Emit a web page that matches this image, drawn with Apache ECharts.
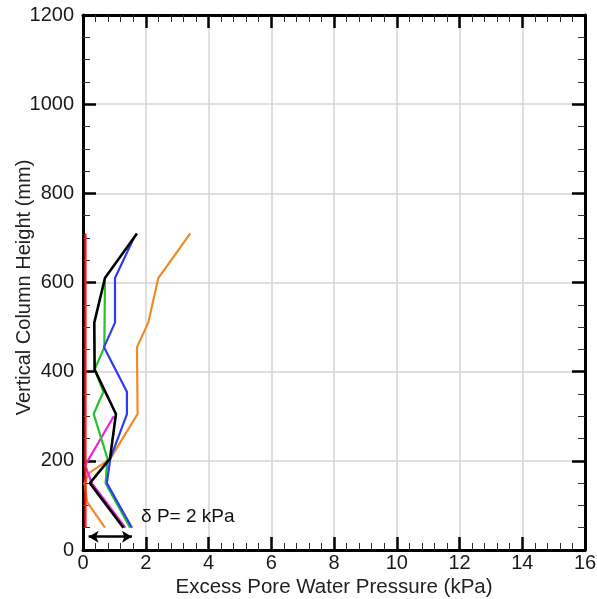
<!DOCTYPE html>
<html>
<head>
<meta charset="utf-8">
<script src="https://cdn.jsdelivr.net/npm/echarts@6/dist/echarts.min.js"></script>
<style>
  html, body { margin: 0; padding: 0; background: #fff; }
  #chart { width: 597px; height: 599px; }
</style>
</head>
<body>
<div id="chart"></div>
<script>
// Excess pore water pressure profiles along the column (kPa vs. mm)
const blackHeight   = [50, 150, 205, 305, 405, 510, 610, 710];
const blackPressure = [1.29, 0.22, 0.86, 1.05, 0.37, 0.36, 0.70, 1.72];

const blueHeight    = [50, 150, 205, 305, 355, 455, 510, 610, 700];
const bluePressure  = [1.56, 0.76, 0.87, 1.40, 1.40, 0.67, 1.02, 1.02, 1.62];

const greenHeight   = [50, 150, 205, 305, 355, 405, 455, 605];
const greenPressure = [1.50, 0.72, 0.78, 0.34, 0.65, 0.37, 0.68, 0.70];

const magentaHeight   = [50, 150, 190, 300];
const magentaPressure = [1.35, 0.28, 0.07, 0.98];

const orangeHeight   = [50, 108, 150, 172, 205, 305, 455, 510, 610, 710];
const orangePressure = [0.70, 0.13, 0.05, 0.18, 0.87, 1.74, 1.72, 2.08, 2.40, 3.42];

const redHeight   = [50, 150, 205, 305, 405, 510, 610, 710];
const redPressure = [0.08, 0.08, 0.08, 0.08, 0.08, 0.08, 0.08, 0.08];

// scale bar: delta P arrow and its caption
const scaleBarHeight = 30;
const scaleBarFrom = 0.18;
const scaleBarTo = 1.56;
const scaleBarText = 'δ P= 2 kPa';
const scaleTextAt = [1.85, 74];

const xTicks = { min: 0, max: 16, interval: 2 };
const yTicks = { min: 0, max: 1200, interval: 200 };

const toPoints = (h, p) => h.map((v, i) => [p[i], v]);

const FONT = 'Liberation Sans, Arial, sans-serif';
const chart = echarts.init(document.getElementById('chart'), null, { renderer: 'canvas' });

const baseAxis = {
  axisLine: { show: true, onZero: false, lineStyle: { color: '#000', width: 3 } },
  axisTick: { show: true, inside: true, length: 13, lineStyle: { color: '#000', width: 2.5 } },
  minorTick: { show: true, length: 7, lineStyle: { color: '#333', width: 1 } },
};

function lineSeries(name, color, h, p, width) {
  return {
    name, type: 'line', data: toPoints(h, p),
    symbol: 'none', smooth: false, clip: false,
    lineStyle: { color, width: width || 2.2 },
    xAxisIndex: 0, yAxisIndex: 0, z: 3
  };
}

const plainNumber = v => String(v);

const option = {
  animation: false,
  backgroundColor: '#fff',
  grid: { left: 83, right: 12, top: 15, bottom: 49, containLabel: false, outerBoundsMode: 'none' },
  xAxis: [
    Object.assign({}, baseAxis, {
      type: 'value', position: 'bottom',
      min: xTicks.min, max: xTicks.max, interval: xTicks.interval,
      minorTick: Object.assign({}, baseAxis.minorTick, { splitNumber: 5 }),
      axisLabel: { color: '#1a1a1a', fontSize: 20, fontFamily: FONT, margin: 3, formatter: plainNumber },
      splitLine: { show: true, lineStyle: { color: '#d4d4d4', width: 1.5 } },
      name: 'Excess Pore Water Pressure (kPa)',
      nameLocation: 'middle', nameGap: 27, nameMoveOverlap: false,
      nameTextStyle: { color: '#222', fontSize: 20.5, fontFamily: FONT }
    }),
    Object.assign({}, baseAxis, {
      type: 'value', position: 'top',
      min: xTicks.min, max: xTicks.max, interval: xTicks.interval,
      minorTick: Object.assign({}, baseAxis.minorTick, { splitNumber: 5 }),
      axisLabel: { show: false },
      splitLine: { show: false }
    })
  ],
  yAxis: [
    Object.assign({}, baseAxis, {
      type: 'value', position: 'left',
      min: yTicks.min, max: yTicks.max, interval: yTicks.interval,
      minorTick: Object.assign({}, baseAxis.minorTick, { splitNumber: 4 }),
      axisLabel: { color: '#1a1a1a', fontSize: 20, fontFamily: FONT, margin: 9, formatter: plainNumber },
      splitLine: { show: true, lineStyle: { color: '#d4d4d4', width: 1.5 } },
      name: 'Vertical Column Height (mm)',
      nameLocation: 'middle', nameGap: 49, nameMoveOverlap: false,
      nameTextStyle: { color: '#222', fontSize: 20, fontFamily: FONT, padding: [0, 10, 0, 0] }
    }),
    Object.assign({}, baseAxis, {
      type: 'value', position: 'right',
      min: yTicks.min, max: yTicks.max, interval: yTicks.interval,
      minorTick: Object.assign({}, baseAxis.minorTick, { splitNumber: 4 }),
      axisLabel: { show: false },
      splitLine: { show: false }
    })
  ],
  series: [
    lineSeries('orange', '#f28a24', orangeHeight, orangePressure),
    lineSeries('magenta', '#f01ee0', magentaHeight, magentaPressure),
    lineSeries('green', '#22c42a', greenHeight, greenPressure),
    lineSeries('blue', '#2f3cf0', blueHeight, bluePressure),
    lineSeries('black', '#000000', blackHeight, blackPressure, 2.6),
    lineSeries('red', '#ff1a1a', redHeight, redPressure),
    {
      name: 'scale', type: 'line', data: [], xAxisIndex: 0, yAxisIndex: 0,
      markLine: {
        silent: true, animation: false,
        symbol: ['arrow', 'arrow'], symbolSize: [9, 10],
        label: { show: false },
        lineStyle: { color: '#000', width: 2.5, type: 'solid' },
        data: [[
          { coord: [scaleBarFrom, scaleBarHeight] },
          { coord: [scaleBarTo, scaleBarHeight] }
        ]]
      },
      markPoint: {
        silent: true, symbol: 'circle', symbolSize: 0,
        label: {
          show: true, position: 'right', distance: 0,
          formatter: scaleBarText,
          color: '#111', fontSize: 19, fontFamily: FONT
        },
        data: [{ coord: scaleTextAt }]
      }
    }
  ]
};

chart.setOption(option);
</script>
</body>
</html>
